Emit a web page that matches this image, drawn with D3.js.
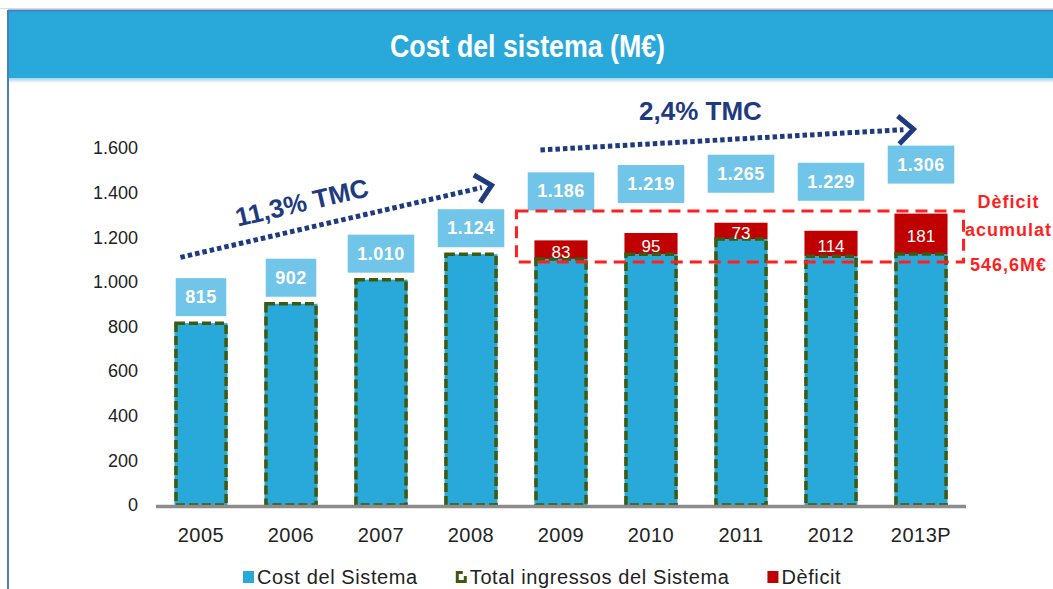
<!DOCTYPE html>
<html>
<head>
<meta charset="utf-8">
<script src="https://cdn.jsdelivr.net/npm/d3@7"></script>
<style>
  html, body { margin: 0; padding: 0; background: #fff; }
  svg { display: block; }
</style>
</head>
<body>
<svg id="chart"></svg>
<script>
// data (M€)
const years = ["2005", "2006", "2007", "2008", "2009", "2010", "2011", "2012", "2013P"];
const costSistema = [815, 902, 1010, 1124, 1186, 1219, 1265, 1229, 1306];
const ingressos = [815, 902, 1010, 1124, 1103, 1124, 1192, 1115, 1125];
const deficit = [0, 0, 0, 0, 83, 95, 73, 114, 181];
const yTicks = [0, 200, 400, 600, 800, 1000, 1200, 1400, 1600];

const trendLabels = ["11,3% TMC", "2,4% TMC"];
const trendFrom = ["2005", "2009"];
const trendTo = ["2008", "2013P"];
const trendStart = [1110, 1591];
const trendEnd = [1435, 1685];

const deficitBand = [1089, 1318];
const deficitNote = ["Dèficit", "acumulat", "546,6M€"];
const legendLabels = ["Cost del Sistema", "Total ingressos del Sistema", "Dèficit"];

const width = 1053, height = 589;
const font = "'Liberation Sans', Arial, sans-serif";

const colors = {
  banner: "#29a9d9",
  frame: "#4a7ebf",
  cost: "#29a9da",
  box: "#70c5e8",
  outline: "#3d5a0f",
  deficit: "#c00000",
  note: "#ff1f1f",
  navy: "#1f3b80",
  text: "#222"
};

const fmt = d3.formatLocale({ decimal: ",", thousands: ".", grouping: [3], currency: ["", "€"] }).format(",");

const svg = d3.select("#chart")
  .attr("width", width)
  .attr("height", height);

// header banner + frame
const grad = svg.append("defs").append("linearGradient")
  .attr("id", "fade").attr("x1", 0).attr("x2", 0).attr("y1", 0).attr("y2", 1);
grad.append("stop").attr("offset", 0).attr("stop-color", "#9fd4ee");
grad.append("stop").attr("offset", 1).attr("stop-color", "#fff");

svg.append("line")
  .attr("x1", 0).attr("x2", width).attr("y1", 8.5).attr("y2", 8.5)
  .attr("stroke", "#dcdcdc").attr("stroke-width", 1);
svg.append("rect")
  .attr("x", 8).attr("y", 10).attr("width", width - 8).attr("height", 68)
  .attr("fill", colors.banner);
svg.append("rect")
  .attr("x", 8).attr("y", 78).attr("width", width - 8).attr("height", 5)
  .attr("fill", "url(#fade)");
svg.append("line")
  .attr("x1", 8).attr("x2", width).attr("y1", 10.5).attr("y2", 10.5)
  .attr("stroke", colors.frame).attr("stroke-width", 2);
svg.append("line")
  .attr("x1", 8).attr("x2", 8).attr("y1", 10).attr("y2", height)
  .attr("stroke", colors.frame).attr("stroke-width", 2);

// narrow title: squeeze glyphs to the reference width
svg.append("text")
  .attr("x", 390).attr("y", 46)
  .attr("dominant-baseline", "central")
  .attr("textLength", 275)
  .attr("lengthAdjust", "spacingAndGlyphs")
  .attr("fill", "#fff")
  .style("font-family", font)
  .style("font-size", "32px")
  .style("font-weight", "bold")
  .text("Cost del sistema (M€)");

// scales
const x = d3.scaleBand()
  .domain(years)
  .range([156, 966])
  .paddingInner(0.41)
  .paddingOuter(0.205);

const y = d3.scaleLinear()
  .domain([0, 1600])
  .range([505, 148]);

const bw = x.bandwidth();

// axes
const yAxis = d3.axisLeft(y).tickValues(yTicks).tickFormat(fmt).tickSize(0).tickPadding(3);
const yAxisGroup = svg.append("g")
  .attr("transform", "translate(141,0)")
  .call(yAxis);
yAxisGroup.select(".domain").remove();
yAxisGroup.selectAll("text")
  .style("font-family", font)
  .style("font-size", "18px")
  .attr("fill", colors.text);

const xAxis = d3.axisBottom(x).tickSize(0).tickPadding(21);
const xAxisGroup = svg.append("g")
  .attr("transform", "translate(0,507)")
  .call(xAxis);
xAxisGroup.select(".domain").remove();
xAxisGroup.selectAll("text")
  .style("font-family", font)
  .style("font-size", "20px")
  .style("letter-spacing", "0.5px")
  .attr("fill", colors.text);

const rows = years.map((yr, i) => ({
  year: yr, cost: costSistema[i], ing: ingressos[i], def: deficit[i]
}));

// bars
const bars = svg.append("g");
bars.selectAll("rect.cost")
  .data(rows)
  .join("rect")
  .attr("class", "cost")
  .attr("x", d => x(d.year))
  .attr("y", d => y(d.ing))
  .attr("width", bw)
  .attr("height", d => y(0) - y(d.ing))
  .attr("fill", colors.cost);

bars.selectAll("rect.def")
  .data(rows.filter(d => d.def > 0))
  .join("rect")
  .attr("class", "def")
  .attr("x", d => x(d.year))
  .attr("y", d => y(d.cost))
  .attr("width", bw)
  .attr("height", d => y(d.ing) - y(d.cost))
  .attr("fill", colors.deficit);

bars.selectAll("rect.ing")
  .data(rows)
  .join("rect")
  .attr("class", "ing")
  .attr("x", d => x(d.year) + 1.5)
  .attr("y", d => y(d.ing))
  .attr("width", bw - 3)
  .attr("height", d => y(0) - y(d.ing))
  .attr("fill", "none")
  .attr("stroke", colors.outline)
  .attr("stroke-width", 3.5)
  .attr("stroke-dasharray", "9 4");

// base line
svg.append("line")
  .attr("x1", x.range()[0]).attr("x2", x.range()[1])
  .attr("y1", y(0) + 1.5).attr("y2", y(0) + 1.5)
  .attr("stroke", "#8c8c8c")
  .attr("stroke-width", 3.5);

// deficit values
bars.selectAll("text.def")
  .data(rows.filter(d => d.def > 0))
  .join("text")
  .attr("class", "def")
  .attr("x", d => x(d.year) + bw / 2)
  .attr("y", d => (y(d.cost) + y(d.ing)) / 2 + 3)
  .attr("text-anchor", "middle")
  .attr("dominant-baseline", "central")
  .attr("fill", "#fff")
  .style("font-family", font)
  .style("font-size", "17px")
  .text(d => d.def);

// cost value boxes
const boxes = svg.append("g").selectAll("g")
  .data(rows)
  .join("g");

boxes.append("text")
  .attr("x", d => x(d.year) + bw / 2)
  .attr("y", d => y(d.cost) - (d.def > 0 ? 30 : 7) - 19)
  .attr("text-anchor", "middle")
  .attr("dominant-baseline", "central")
  .attr("fill", "#fff")
  .style("font-family", font)
  .style("font-size", "18px")
  .style("font-weight", "bold")
  .style("letter-spacing", "0.5px")
  .text(d => fmt(d.cost));

boxes.each(function (d) {
  const g = d3.select(this);
  const t = g.select("text");
  const w = t.node().getComputedTextLength() + 19;
  const cy = +t.attr("y");
  g.insert("rect", "text")
    .attr("x", x(d.year) + bw / 2 - w / 2)
    .attr("y", cy - 19)
    .attr("width", w)
    .attr("height", 38)
    .attr("fill", colors.box);
});

// accumulated deficit frame
const bandX0 = x("2009") - 18;
const bandX1 = x("2013P") + bw + 16;
svg.append("rect")
  .attr("x", bandX0)
  .attr("y", y(deficitBand[1]))
  .attr("width", bandX1 - bandX0)
  .attr("height", y(deficitBand[0]) - y(deficitBand[1]))
  .attr("fill", "none")
  .attr("stroke", colors.note)
  .attr("stroke-width", 3)
  .attr("stroke-dasharray", "12 7");

const noteY = [y(deficitBand[1]) - 9, y(deficitBand[1]) + 19, y(deficitBand[0]) + 3];
svg.append("g").selectAll("text")
  .data(deficitNote)
  .join("text")
  .attr("x", bandX1 + 45)
  .attr("y", (d, i) => noteY[i])
  .attr("text-anchor", "middle")
  .attr("dominant-baseline", "central")
  .attr("fill", colors.note)
  .style("font-family", font)
  .style("font-size", "18px")
  .style("font-weight", "bold")
  .style("letter-spacing", "1px")
  .text(d => d);

// growth arrows
const tipOffset = [bw - 4, 21];
const trendGroup = svg.append("g");
trendLabels.forEach((label, i) => {
  const x0 = x(trendFrom[i]) + 6;
  const y0 = y(trendStart[i]);
  const x1 = x(trendTo[i]) + tipOffset[i];
  const y1 = y(trendEnd[i]);
  const ang = Math.atan2(y1 - y0, x1 - x0);
  const len = Math.hypot(x1 - x0, y1 - y0);
  const g = trendGroup.append("g")
    .attr("transform", `translate(${x0},${y0}) rotate(${ang * 180 / Math.PI})`);
  g.append("line")
    .attr("x1", 0).attr("x2", len - 12)
    .attr("y1", 0).attr("y2", 0)
    .attr("stroke", colors.navy)
    .attr("stroke-width", 5)
    .attr("stroke-dasharray", "4.5 3");
  g.append("path")
    .attr("d", `M${len - 17},-14 L${len - 2},0 L${len - 17},14`)
    .attr("fill", "none")
    .attr("stroke", colors.navy)
    .attr("stroke-width", 5)
    .attr("stroke-linejoin", "miter");

  if (i === 0) {
    g.append("text")
      .attr("x", len / 2 - 30)
      .attr("y", -17)
      .attr("text-anchor", "middle")
      .attr("fill", colors.navy)
      .style("font-family", font)
      .style("font-size", "26px")
      .style("font-weight", "bold")
      .text(label);
  } else {
    trendGroup.append("text")
      .attr("x", x0 + 160)
      .attr("y", y0 - 39)
      .attr("text-anchor", "middle")
      .attr("dominant-baseline", "central")
      .attr("fill", colors.navy)
      .style("font-family", font)
      .style("font-size", "26px")
      .style("font-weight", "bold")
      .text(label);
  }
});

// legend
const legend = svg.append("g").attr("transform", "translate(243,577)");
let lx = 0;
legendLabels.forEach((label, i) => {
  const item = legend.append("g").attr("transform", `translate(${lx},0)`);
  if (i === 0) {
    item.append("rect").attr("x", 0).attr("y", -6).attr("width", 11).attr("height", 12)
      .attr("fill", colors.cost);
  } else if (i === 1) {
    item.append("path")
      .attr("d", "M7,-4.5 L1.5,-4.5 L1.5,4.5 L9.5,4.5 L9.5,-1")
      .attr("fill", "none")
      .attr("stroke", colors.outline)
      .attr("stroke-width", 3);
  } else {
    item.append("rect").attr("x", 0).attr("y", -6).attr("width", 11).attr("height", 12)
      .attr("fill", colors.deficit);
  }
  const t = item.append("text")
    .attr("x", 14)
    .attr("y", 0)
    .attr("dominant-baseline", "central")
    .attr("fill", colors.text)
    .style("font-family", font)
    .style("font-size", "20px")
    .style("letter-spacing", "0.6px")
    .text(label);
  lx += 14 + t.node().getComputedTextLength() + 38;
});
</script>
</body>
</html>
